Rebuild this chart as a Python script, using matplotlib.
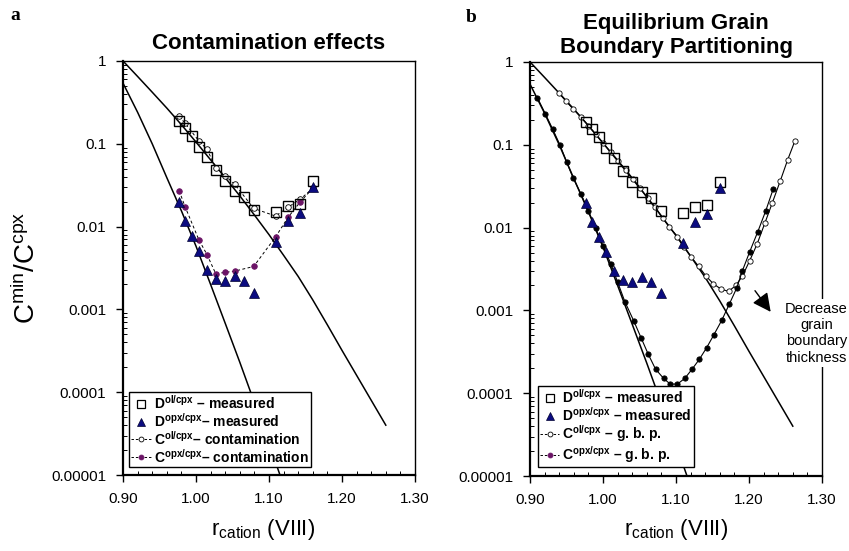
"""Lattice-strain partitioning plots: contamination vs grain boundary partitioning."""

import matplotlib

matplotlib.use("Agg")
import matplotlib.pyplot as plt
from matplotlib.lines import Line2D
from matplotlib.ticker import LogLocator, MultipleLocator, NullFormatter

plt.rcParams["font.family"] = ["Liberation Sans", "DejaVu Sans"]
plt.rcParams["mathtext.fontset"] = "custom"
plt.rcParams["mathtext.rm"] = "Liberation Sans"
plt.rcParams["mathtext.bf"] = "Liberation Sans:bold"
plt.rcParams["mathtext.it"] = "Liberation Sans:italic"

# measured REE partition coefficients (ionic radius, VIII coordination)
r_ree = [0.977, 0.985, 0.994, 1.004, 1.015, 1.027, 1.040, 1.053, 1.066, 1.079, 1.109, 1.126, 1.143, 1.160]
d_ol_cpx = [0.19, 0.154, 0.124, 0.092, 0.069, 0.048, 0.036, 0.027, 0.0226, 0.016, 0.015, 0.0175, 0.019, 0.036]
d_opx_cpx = [0.0197, 0.0118, 0.0077, 0.0051, 0.0030, 0.0023, 0.0022, 0.0025, 0.0022, 0.0016,
             0.0065, 0.0117, 0.0144, 0.030]

# lattice strain fits
r_fit_ol = [0.90, 0.92, 0.94, 0.96, 0.98, 1.00, 1.02, 1.04, 1.06, 1.08, 1.10, 1.12, 1.14, 1.16,
            1.18, 1.20, 1.22, 1.24, 1.26]
fit_ol = [1.0, 0.65, 0.42, 0.27, 0.17, 0.105, 0.064, 0.039, 0.0235, 0.0138, 0.0080, 0.0045, 0.0025,
          0.0013, 6.5e-4, 3.2e-4, 1.6e-4, 8e-5, 4e-5]
r_fit_opx = [0.90, 0.92, 0.94, 0.96, 0.98, 1.00, 1.02, 1.04, 1.06, 1.08, 1.10, 1.12]
fit_opx = [0.54, 0.24, 0.10, 0.039, 0.0155, 0.0058, 0.0020, 6.8e-4, 2.3e-4, 7.5e-5, 2.4e-5, 7.5e-6]

# panel a: contamination model
r_contam = [0.977, 0.985, 1.004, 1.015, 1.027, 1.040, 1.053, 1.079, 1.109, 1.126, 1.143, 1.160]
c_ol_contam = [0.215, 0.177, 0.108, 0.086, 0.0515, 0.041, 0.0325, 0.0166, 0.0134, 0.0171, 0.0215, 0.029]
c_opx_contam = [0.027, 0.0174, 0.0069, 0.0046, 0.0027, 0.0028, 0.0029, 0.0033, 0.0075, 0.0129, 0.020, 0.029]

# panel b: equilibrium grain boundary partitioning model
r_gbp_ol = [0.940, 0.949, 0.959, 0.970, 0.980, 0.990, 1.000, 1.011, 1.021, 1.031, 1.041, 1.051, 1.061,
            1.071, 1.082, 1.091, 1.102, 1.111, 1.121, 1.131, 1.141, 1.151, 1.162, 1.172, 1.182, 1.191,
            1.201, 1.211, 1.222, 1.232, 1.243, 1.253, 1.263]
c_gbp_ol = [0.419, 0.338, 0.271, 0.215, 0.17, 0.134, 0.105, 0.081, 0.064, 0.050, 0.039, 0.030, 0.0226,
            0.0179, 0.0129, 0.0101, 0.0078, 0.0059, 0.0044, 0.0034, 0.0026, 0.0021, 0.0018, 0.0017,
            0.0020, 0.0026, 0.0040, 0.0063, 0.0115, 0.020, 0.037, 0.066, 0.112]
r_gbp_opx = [0.910, 0.921, 0.931, 0.941, 0.950, 0.959, 0.970, 0.980, 0.990, 1.000, 1.011, 1.020, 1.030,
             1.042, 1.052, 1.062, 1.072, 1.083, 1.092, 1.102, 1.112, 1.122, 1.132, 1.142, 1.152, 1.163,
             1.173, 1.183, 1.191, 1.201, 1.212, 1.223, 1.233]
c_gbp_opx = [0.371, 0.236, 0.155, 0.0995, 0.0625, 0.040, 0.0252, 0.0159, 0.0098, 0.0060, 0.0036, 0.0022,
             0.00127, 7.5e-4, 4.7e-4, 2.95e-4, 1.95e-4, 1.51e-4, 1.29e-4, 1.29e-4, 1.51e-4, 1.95e-4,
             2.57e-4, 3.55e-4, 5.1e-4, 7.7e-4, 0.00119, 0.00185, 0.00302, 0.00512, 0.0089, 0.016, 0.029]

x_ticks = [0.90, 1.00, 1.10, 1.20, 1.30]
x_tick_labels = ["0.90", "1.00", "1.10", "1.20", "1.30"]
y_ticks = [1e-5, 1e-4, 1e-3, 1e-2, 1e-1, 1]
y_tick_labels = ["0.00001", "0.0001", "0.001", "0.01", "0.1", "1"]

NAVY = "#0b0b80"
PURPLE = "#6b1466"


def style_axes(ax):
    ax.set_yscale("log")
    ax.set_xlim(0.9, 1.3)
    ax.set_ylim(1e-5, 1)
    ax.set_xticks(x_ticks)
    ax.set_xticklabels(x_tick_labels)
    ax.set_yticks(y_ticks)
    ax.set_yticklabels(y_tick_labels)
    ax.xaxis.set_minor_locator(MultipleLocator(0.02))
    ax.yaxis.set_minor_locator(LogLocator(base=10, subs=range(2, 10)))
    ax.yaxis.set_minor_formatter(NullFormatter())
    ax.tick_params(which="major", direction="out", length=5, width=1.0, labelsize=11, pad=7)
    ax.tick_params(which="minor", direction="in", length=3, width=0.7)
    for side in ("left", "bottom"):
        ax.spines[side].set_linewidth(1.6)
    for side in ("top", "right"):
        ax.spines[side].set_linewidth(1.0)


def add_measured(ax):
    ax.plot(r_ree, d_ol_cpx, ls="none", marker="s", ms=6.5, mfc="none", mec="black", mew=1.0, zorder=4)
    ax.plot(r_ree, d_opx_cpx, ls="none", marker="^", ms=6.5, mfc=NAVY, mec="#000030", mew=0.5, zorder=5)


def add_legend(ax, labels, anchor):
    handles = [
        Line2D([], [], ls="none", marker="s", ms=6, mfc="white", mec="black", mew=0.9),
        Line2D([], [], ls="none", marker="^", ms=6, mfc=NAVY, mec="#000030", mew=0.5),
        Line2D([], [], ls=(0, (2.5, 2)), lw=0.7, color="black", marker="o", ms=3.5, mfc="white",
               mec="black", mew=0.6),
        Line2D([], [], ls=(0, (2.5, 2)), lw=0.7, color="black", marker="o", ms=3.5, mfc=PURPLE,
               mec=PURPLE, mew=0.6),
    ]
    leg = ax.legend(handles, labels, loc="lower left", bbox_to_anchor=anchor, borderaxespad=0,
                    prop={"weight": "bold", "size": 10}, handlelength=1.4, handletextpad=0.2,
                    labelspacing=0.0, borderpad=0.15, fancybox=False, framealpha=1)
    leg.get_frame().set_edgecolor("black")
    leg.get_frame().set_linewidth(1.0)
    leg.set_zorder(6)


labels_a = [
    r"$\mathbf{D}^{\mathbf{ol/cpx}}$ – measured",
    r"$\mathbf{D}^{\mathbf{opx/cpx}}$– measured",
    r"$\mathbf{C}^{\mathbf{ol/cpx}}$– contamination",
    r"$\mathbf{C}^{\mathbf{opx/cpx}}$– contamination",
]
labels_b = [
    r"$\mathbf{D}^{\mathbf{ol/cpx}}$ – measured",
    r"$\mathbf{D}^{\mathbf{opx/cpx}}$ – measured",
    r"$\mathbf{C}^{\mathbf{ol/cpx}}$ – g. b. p.",
    r"$\mathbf{C}^{\mathbf{opx/cpx}}$ – g. b. p.",
]

fig = plt.figure(figsize=(8.49, 5.51), dpi=100)
ax_a = fig.add_axes([0.1449, 0.1379, 0.3439, 0.7514])
ax_b = fig.add_axes([0.6243, 0.1361, 0.3439, 0.7514])

# panel a
style_axes(ax_a)
ax_a.plot(r_fit_ol, fit_ol, color="black", lw=1.1, zorder=2)
ax_a.plot(r_fit_opx, fit_opx, color="black", lw=1.1, zorder=2)
ax_a.plot(r_contam, c_ol_contam, ls=(0, (3, 2.5)), lw=0.7, color="black", marker="o", ms=4,
          mfc="white", mec="black", mew=0.6, zorder=3)
ax_a.plot(r_contam, c_opx_contam, ls=(0, (3, 2.5)), lw=0.7, color="black", marker="o", ms=4,
          mfc=PURPLE, mec=PURPLE, mew=0.6, zorder=3)
add_measured(ax_a)
add_legend(ax_a, labels_a, (0.0216, 0.0186))
ax_a.text(0.5, 1.016, "Contamination effects", transform=ax_a.transAxes, ha="center", va="bottom",
          fontsize=16, fontweight="bold")

# panel b
style_axes(ax_b)
ax_b.plot(r_fit_ol, fit_ol, color="black", lw=1.1, zorder=2)
ax_b.plot(r_fit_opx, fit_opx, color="black", lw=1.1, zorder=2)
ax_b.plot(r_gbp_ol, c_gbp_ol, ls="-", lw=0.8, color="black", marker="o", ms=3.8, mfc="white",
          mec="black", mew=0.6, zorder=3)
ax_b.plot(r_gbp_opx, c_gbp_opx, ls="-", lw=0.8, color="black", marker="o", ms=3.8, mfc="black",
          mec="black", mew=0.6, zorder=3)
add_measured(ax_b)
add_legend(ax_b, labels_b, (0.0264, 0.021))
ax_b.text(0.5, 1.01, "Equilibrium Grain\nBoundary Partitioning", transform=ax_b.transAxes,
          ha="center", va="bottom", fontsize=16, fontweight="bold", linespacing=1.2)
ax_b.annotate("", xy=(1.2297, 9.6e-4), xytext=(1.2082, 1.73e-3),
              arrowprops=dict(arrowstyle="-|>,head_length=0.8,head_width=0.4", color="black",
                              lw=1.0, mutation_scale=14, shrinkA=0, shrinkB=0))
ax_b.text(1.2925, 5.3e-4, "Decrease\ngrain\nboundary\nthickness", ha="center", va="center",
          fontsize=10.5, linespacing=1.2, clip_on=False, zorder=7,
          bbox=dict(fc="white", ec="none", pad=2))

# axis labels and panel letters
fig.text(27 / 849, 1 - 268 / 551, r"C$^{\rm min}$/C$^{\rm cpx}$", rotation=90, ha="center",
         va="center", fontsize=20)
fig.text(263 / 849, 1 - 529 / 551, r"r$_{\rm cation}$ (VIII)", ha="center", va="center", fontsize=16)
fig.text(676 / 849, 1 - 529 / 551, r"r$_{\rm cation}$ (VIII)", ha="center", va="center", fontsize=16)
fig.text(10 / 849, 1 - 16 / 551, "a", ha="left", va="center", fontsize=14, fontweight="bold",
         family="Liberation Serif")
fig.text(466 / 849, 1 - 17 / 551, "b", ha="left", va="center", fontsize=14, fontweight="bold",
         family="Liberation Serif")

fig.savefig("out.png", dpi=100)
